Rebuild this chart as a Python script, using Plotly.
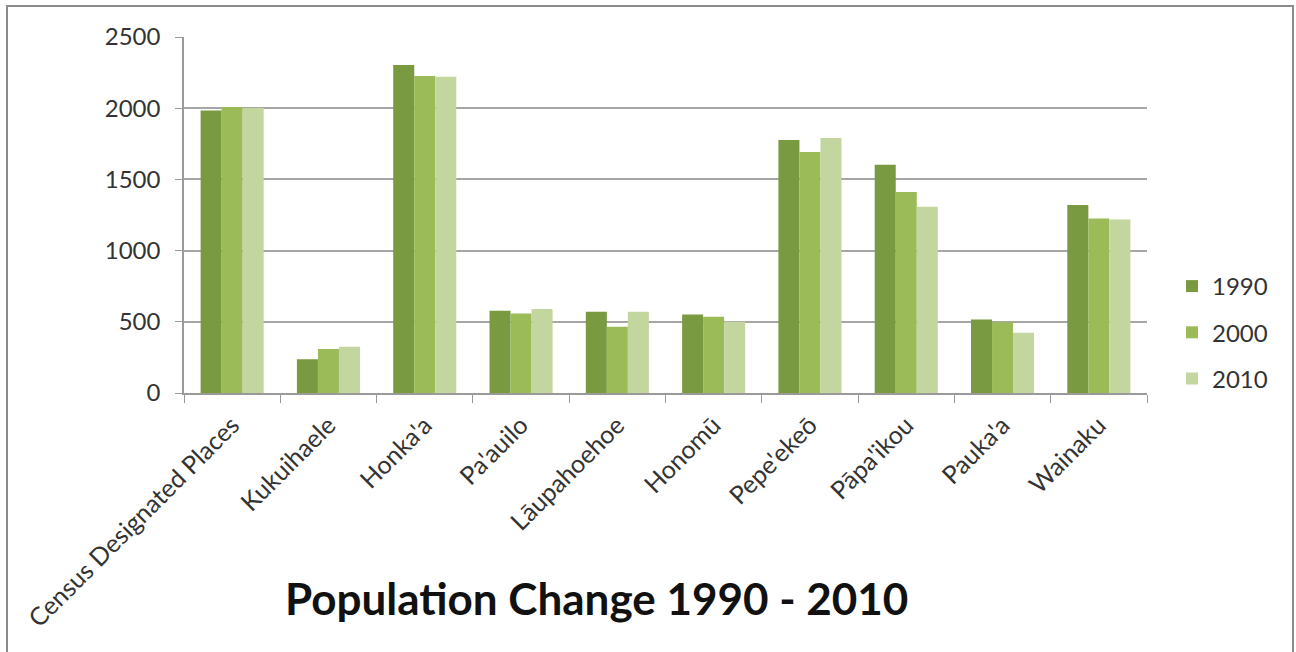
import plotly.graph_objects as go

# Census designated places and population counts by census year
places = ["Census Designated Places", "Kukuihaele", "Honka'a", "Pa'auilo",
          "Lāupahoehoe", "Honomū", "Pepe'ekeō", "Pāpa'ikou", "Pauka'a", "Wainaku"]
pop_1990 = [1983, 237, 2303, 578, 571, 552, 1776, 1603, 517, 1320]
pop_2000 = [2008, 309, 2226, 559, 466, 536, 1692, 1411, 496, 1226]
pop_2010 = [2002, 325, 2221, 590, 571, 501, 1790, 1308, 423, 1219]
years = ["1990", "2000", "2010"]
colors = ["#7a9a41", "#9bbb59", "#c4d6a0"]

W, H = 1296, 652
L, R, T, B = 184, 149, 37, 259
pw, ph = W - L - R, H - T - B


def px_x(x):
    return (x - L) / pw


def px_y(y):
    return (H - B - y) / ph


fig = go.Figure()
for yr, vals, col in zip(years, [pop_1990, pop_2000, pop_2010], colors):
    fig.add_trace(go.Bar(x=places, y=vals, name=yr, marker_color=col,
                         marker_line_width=0, legendgroup=yr))

font_family = "Lato, 'Open Sans', sans-serif"
fig.update_layout(
    width=W, height=H,
    margin=dict(l=L, r=R, t=T, b=B),
    paper_bgcolor="white", plot_bgcolor="white",
    barmode="group", bargap=0.345, bargroupgap=0,
    font=dict(family=font_family, size=24, color="#333333"),
    showlegend=True,
    legend=dict(x=px_x(1172), y=px_y(264), xanchor="left", yanchor="top",
                font=dict(size=24, color="#333333"), tracegroupgap=12,
                itemwidth=30, bgcolor="rgba(0,0,0,0)"),
    xaxis=dict(tickangle=-45, showline=True, linecolor="#9a9a9a", linewidth=1.5,
               ticks="outside", tickson="boundaries", ticklen=8, tickcolor="#9a9a9a",
               ticklabelstandoff=6,
               showgrid=False, tickfont=dict(size=25, color="#333333")),
    yaxis=dict(range=[0, 2500], dtick=500, showline=True, linecolor="#9a9a9a",
               linewidth=1.5, ticks="outside", ticklen=7, tickcolor="#9a9a9a",
               ticklabelstandoff=10,
               showgrid=True, gridcolor="#a6a6a6", gridwidth=1.5, zeroline=False,
               tickfont=dict(size=24, color="#333333")),
    annotations=[dict(text="<b>Population Change 1990 - 2010</b>", xref="paper", yref="paper",
                      x=px_x(596), y=px_y(598), xanchor="center", yanchor="middle",
                      showarrow=False, font=dict(size=44, color="#111111", family=font_family))],
    shapes=[dict(type="rect", xref="paper", yref="paper",
                 x0=px_x(7), x1=px_x(1293), y0=px_y(665), y1=px_y(6),
                 line=dict(color="#8c8c8c", width=2), layer="below")],
)

fig.write_html("out.html")
